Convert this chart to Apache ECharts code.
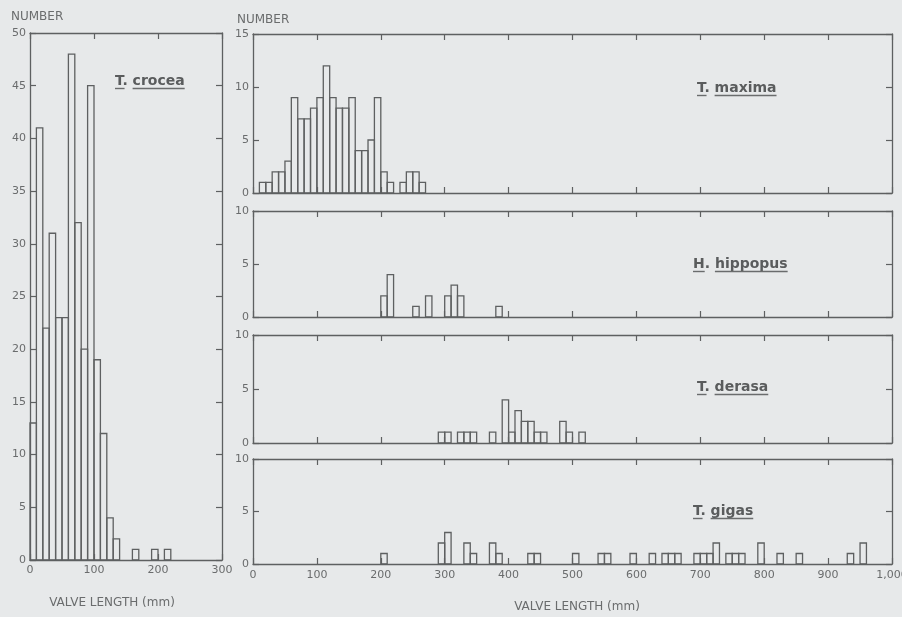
<!DOCTYPE html>
<html>
<head>
<meta charset="utf-8">
<script src="https://cdn.jsdelivr.net/npm/echarts@6/dist/echarts.min.js"></script>
<style>
  html, body { margin: 0; padding: 0; background: #e7e9ea; }
  #chart { width: 902px; height: 617px; }
</style>
</head>
<body>
<div id="chart"></div>
<script>
// histogram bins are 10 mm wide; each list holds bin start (mm) and count
const BIN = 10;

const croceaBins   = [0, 10, 20, 30, 40, 50, 60, 70, 80, 90, 100, 110, 120, 130, 160, 190, 210];
const croceaCounts = [13, 41, 22, 31, 23, 23, 48, 32, 20, 45, 19, 12, 4, 2, 1, 1, 1];

const maximaBins   = [10, 20, 30, 40, 50, 60, 70, 80, 90, 100, 110, 120, 130, 140, 150, 160, 170, 180, 190, 200, 210, 230, 240, 250, 260];
const maximaCounts = [1, 1, 2, 2, 3, 9, 7, 7, 8, 9, 12, 9, 8, 8, 9, 4, 4, 5, 9, 2, 1, 1, 2, 2, 1];

const hippopusBins   = [200, 210, 250, 270, 300, 310, 320, 380];
const hippopusCounts = [2, 4, 1, 2, 2, 3, 2, 1];

const derasaBins   = [290, 300, 320, 330, 340, 370, 390, 400, 410, 420, 430, 440, 450, 480, 490, 510];
const derasaCounts = [1, 1, 1, 1, 1, 1, 4, 1, 3, 2, 2, 1, 1, 2, 1, 1];

const gigasBins   = [200, 290, 300, 330, 340, 370, 380, 430, 440, 500, 540, 550, 590, 620, 640, 650, 660, 690, 700, 710, 720, 740, 750, 760, 790, 820, 850, 930, 950];
const gigasCounts = [1, 2, 3, 2, 1, 2, 1, 1, 1, 1, 1, 1, 1, 1, 1, 1, 1, 1, 1, 1, 2, 1, 1, 1, 2, 1, 1, 1, 2];

const INK = "#5e6061";
const TXT = "#6a6c6d";
const AXIS_FONT = "DejaVu Sans";

// panels: bins, counts, axis ranges, grid box, whether x labels show
const panels = [
  { bins: croceaBins,   counts: croceaCounts,   xMax: 300,  yMax: 50, grid: { left: 30,  top: 33,  width: 192, height: 527 }, xLabels: true },
  { bins: maximaBins,   counts: maximaCounts,   xMax: 1000, yMax: 15, grid: { left: 253, top: 34,  width: 639, height: 159 }, xLabels: false },
  { bins: hippopusBins, counts: hippopusCounts, xMax: 1000, yMax: 10, grid: { left: 253, top: 211, width: 639, height: 106 }, xLabels: false },
  { bins: derasaBins,   counts: derasaCounts,   xMax: 1000, yMax: 10, grid: { left: 253, top: 335, width: 639, height: 108 }, xLabels: false },
  { bins: gigasBins,    counts: gigasCounts,    xMax: 1000, yMax: 10, grid: { left: 253, top: 459, width: 639, height: 105 }, xLabels: true }
];

const species = [
  { genus: "T", name: "crocea",   x: 115, base: 86 },
  { genus: "T", name: "maxima",   x: 697, base: 93 },
  { genus: "H", name: "hippopus", x: 693, base: 269 },
  { genus: "T", name: "derasa",   x: 697, base: 392 },
  { genus: "T", name: "gigas",    x: 693, base: 516 }
];

function renderBin(params, api) {
  const x0 = api.value(0);
  const n = api.value(1);
  const a = api.coord([x0, 0]);
  const b = api.coord([x0 + BIN, n]);
  return {
    type: "rect",
    shape: { x: a[0], y: b[1], width: b[0] - a[0], height: a[1] - b[1] },
    style: { fill: "none", stroke: INK, lineWidth: 1.3 }
  };
}

function tickAxis(extra) {
  return Object.assign({
    type: "value",
    min: 0,
    interval: 5,
    splitLine: { show: false },
    axisLine: { show: true, onZero: false, lineStyle: { color: INK, width: 1.3 } },
    axisTick: { show: true, inside: true, length: 6, lineStyle: { color: INK, width: 1.2 } }
  }, extra);
}

const grids = [], xAxes = [], yAxes = [], series = [];
panels.forEach((p, i) => {
  grids.push(Object.assign({ outerBoundsMode: "none", containLabel: false }, p.grid));
  const xLab = {
    show: p.xLabels, color: TXT, fontSize: 11, fontFamily: AXIS_FONT, margin: p.xMax === 300 ? 5 : 6,
    formatter: v => v === 1000 ? "1,000" : String(v)
  };
  xAxes.push(tickAxis({ gridIndex: i, position: "bottom", max: p.xMax, interval: 100, axisLabel: xLab }));
  xAxes.push(tickAxis({ gridIndex: i, position: "top", max: p.xMax, interval: 100, axisLabel: { show: false } }));
  yAxes.push(tickAxis({ gridIndex: i, position: "left", max: p.yMax,
    axisLabel: { show: true, color: TXT, fontSize: 11, fontFamily: AXIS_FONT, margin: 4 } }));
  yAxes.push(tickAxis({ gridIndex: i, position: "right", max: p.yMax, axisLabel: { show: false } }));
  series.push({
    type: "custom",
    xAxisIndex: 2 * i,
    yAxisIndex: 2 * i,
    renderItem: renderBin,
    encode: { x: 0, y: 1 },
    silent: true,
    data: p.bins.map((b, k) => [b, p.counts[k]])
  });
});

// species names with underlined genus and epithet
const ctx = document.createElement("canvas").getContext("2d");
const SP_FONT = "bold 14px 'DejaVu Sans'";
ctx.font = SP_FONT;
const graphics = [];
species.forEach(s => {
  const wG = ctx.measureText(s.genus).width;
  const wGap = ctx.measureText(s.genus + ". ").width;
  const wN = ctx.measureText(s.name).width;
  const yMid = s.base - 5;
  const ts = { font: SP_FONT, fill: "#5a5c5d", verticalAlign: "middle", align: "left" };
  graphics.push({ type: "text", x: s.x, y: yMid, style: Object.assign({ text: s.genus + "." }, ts) });
  graphics.push({ type: "text", x: s.x + wGap, y: yMid, style: Object.assign({ text: s.name }, ts) });
  const ls = { stroke: "#6a6c6d", lineWidth: 1.4 };
  graphics.push({ type: "line", shape: { x1: s.x, y1: s.base + 2.5, x2: s.x + wG, y2: s.base + 2.5 }, style: ls });
  graphics.push({ type: "line", shape: { x1: s.x + wGap, y1: s.base + 2.5, x2: s.x + wGap + wN, y2: s.base + 2.5 }, style: ls });
});

const axTitle = { font: "12px 'DejaVu Sans'", fill: TXT };
graphics.push({ type: "text", left: 11, top: 11, style: Object.assign({ text: "NUMBER" }, axTitle) });
graphics.push({ type: "text", left: 237, top: 14, style: Object.assign({ text: "NUMBER" }, axTitle) });
graphics.push({ type: "text", x: 112, y: 603, style: Object.assign({ text: "VALVE LENGTH (mm)", align: "center", verticalAlign: "middle" }, axTitle) });
graphics.push({ type: "text", x: 577, y: 607, style: Object.assign({ text: "VALVE LENGTH (mm)", align: "center", verticalAlign: "middle" }, axTitle) });

const chart = echarts.init(document.getElementById("chart"), null, { renderer: "canvas" });
chart.setOption({
  backgroundColor: "#e7e9ea",
  animation: false,
  grid: grids,
  xAxis: xAxes,
  yAxis: yAxes,
  series: series,
  graphic: graphics
});
</script>
</body>
</html>
